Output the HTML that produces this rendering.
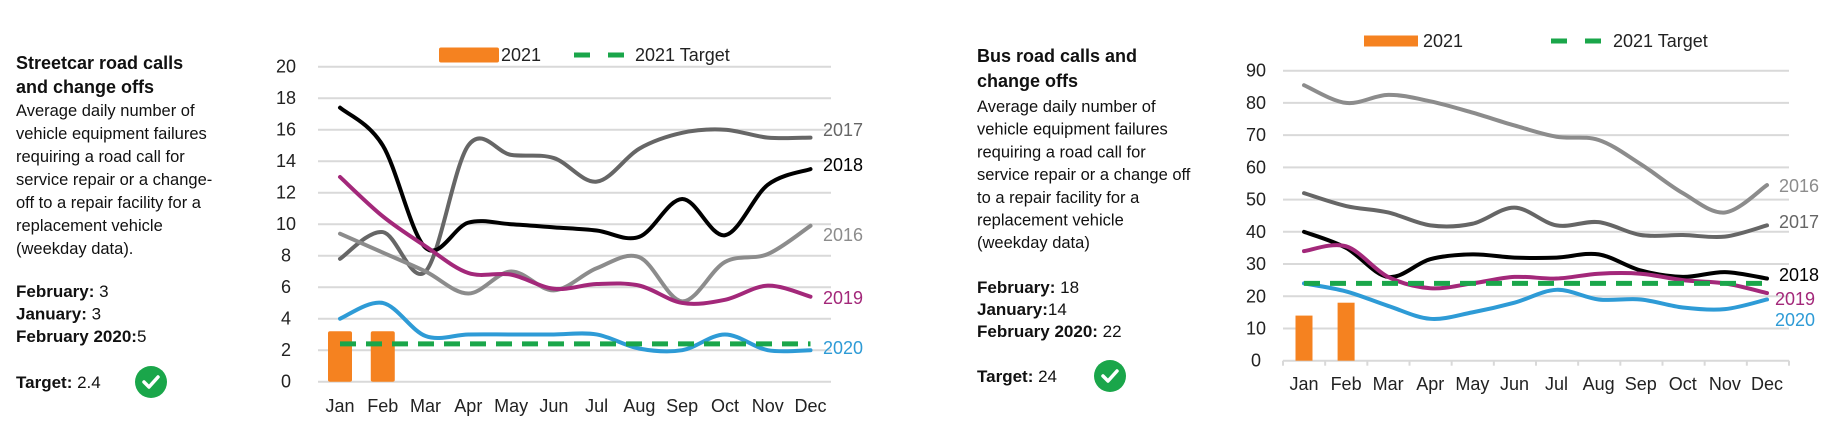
<!DOCTYPE html>
<html><head><meta charset="utf-8"><style>
body{margin:0;background:#fff;width:1830px;height:439px;overflow:hidden;font-family:"Liberation Sans",Arial,sans-serif;}
svg{position:absolute;left:0;top:0}
text{font-family:"Liberation Sans",Arial,sans-serif;}
</style></head><body>
<svg id="chart" width="1830" height="439" viewBox="0 0 1830 439"></svg>
<script>
const months=["Jan","Feb","Mar","Apr","May","Jun","Jul","Aug","Sep","Oct","Nov","Dec"];
// Streetcar
const scTicks=[0,2,4,6,8,10,12,14,16,18,20];
const sc2016=[9.4,8.2,7,5.6,7,5.8,7.2,7.9,5.1,7.6,8.1,9.9];
const sc2017=[7.8,9.5,7,15,14.4,14.2,12.7,14.8,15.8,16,15.5,15.5];
const sc2018=[17.4,15,8.5,10.1,10,9.8,9.6,9.2,11.6,9.3,12.5,13.5];
const sc2019=[13,10.5,8.6,6.9,6.8,5.9,6.2,6.1,5.0,5.2,6.1,5.4];
const sc2020=[4,5,2.9,3,3,3,3,2.1,2,3,2,2];
const sc2021=[3.2,3.2];
const scTarget=2.4;
// Bus
const busTicks=[0,10,20,30,40,50,60,70,80,90];
const bus2016=[85.5,80,82.5,80.5,77,73,69.5,68.5,61,52,46,54.5];
const bus2017=[52,48,46,42,42.5,47.5,42,43,39,39,38.5,42];
const bus2018=[40,35,26,31.5,33,32,32,33,28,26,27.5,25.5];
const bus2019=[34,35.5,26,22.5,24,26,25.5,27,27,25,24,21];
const bus2020=[24,21.5,17,13,15,18,22,19,19,16.5,16,19];
const bus2021=[14,18];
const busTarget=24;

const NS="http://www.w3.org/2000/svg";
const svg=document.getElementById('chart');
function el(tag,attrs,parent,txt){const e=document.createElementNS(NS,tag);for(const k in attrs)e.setAttribute(k,attrs[k]);if(txt!==undefined)e.textContent=txt;(parent||svg).appendChild(e);return e;}
function smooth(pts){let d=`M${pts[0][0]},${pts[0][1]}`;for(let i=0;i<pts.length-1;i++){const p0=pts[i-1]||pts[i],p1=pts[i],p2=pts[i+1],p3=pts[i+2]||p2;const t=6;d+=` C${p1[0]+(p2[0]-p0[0])/t},${p1[1]+(p2[1]-p0[1])/t} ${p2[0]-(p3[0]-p1[0])/t},${p2[1]-(p3[1]-p1[1])/t} ${p2[0]},${p2[1]}`;}return d;}

function panel(c){
  const g=el('g',{});
  
  
  const y=v=>c.y0-(v/c.ymax)*(c.y0-c.y1);
  const x=i=>c.xJan+i*(c.xDec-c.xJan)/11;
  const tb=el('g',{},g);
  
  
  c.title.forEach((t,i)=>el('text',{x:c.tx,y:c.titleY[i],'font-size':18,'font-weight':'bold',fill:'#111'},tb,t));
  c.body.forEach((t,i)=>el('text',{x:c.tx,y:c.bodyY+i*c.lh,'font-size':16.5,fill:'#111'},tb,t));
  c.stats.forEach((s,i)=>{const t=el('text',{x:c.tx,y:c.statY+i*c.slh,'font-size':17,fill:'#111'},tb);el('tspan',{'font-weight':'bold'},t,s[0]);el('tspan',{},t,s[1]);});
  const tt=el('text',{x:c.tx,y:c.targetY,'font-size':17,fill:'#111'},tb);el('tspan',{'font-weight':'bold'},tt,'Target:');el('tspan',{},tt,' '+c.targetText);
  const ck=el('g',{},tb);
  
  
  el('circle',{cx:c.ckx,cy:c.targetY-6,r:16,fill:'#1aa64a'},ck);
  el('path',{d:`M${c.ckx-7},${c.targetY-6} l5,5 l9,-10`,stroke:'#fff','stroke-width':3.5,fill:'none','stroke-linecap':'round','stroke-linejoin':'round'},ck);
  c.ticks.forEach(v=>{
    const gl=el('line',{x1:c.gx0,x2:c.gx1,y1:y(v),y2:y(v),stroke:'#d9d9d9','stroke-width':2},g);
    
    
    const tl=el('text',{x:c.ylx,y:y(v)+6,'font-size':18,'text-anchor':'middle',fill:'#222'},g,String(v));
    
    
  });
  if(c.axisTicks){for(let i=0;i<=12;i++){const xx=c.gx0+i*(c.gx1-c.gx0)/12;el('line',{x1:xx,x2:xx,y1:c.y0,y2:c.y0+5,stroke:'#d9d9d9','stroke-width':2},g);}}
  months.forEach((m,i)=>{const t=el('text',{x:x(i),y:c.mY,'font-size':18,'text-anchor':'middle',fill:'#222'},g,m);
    
    });
  c.bars.forEach((v,i)=>{const r=el('rect',{x:x(i)-c.bw/2,y:y(v),width:c.bw,height:c.y0-y(v),fill:'#f58220',rx:c.rx},g);
    
    });
  c.series.forEach(s=>{
    const p=el('path',{d:smooth(s.data.map((v,i)=>[x(i),y(v)])),stroke:s.color,'stroke-width':4,fill:'none','stroke-linecap':'round'},g);
    
    
    const l=el('text',{x:s.lx,y:s.ly+6,'font-size':18,style:'fill:'+s.color},g,s.label);
    
    
  });
  const tg=el('line',{x1:x(0),x2:x(11),y1:y(c.target),y2:y(c.target),stroke:'#1aa64a','stroke-width':5,'stroke-dasharray':'16,10'},g);
  
  
  const lg=el('g',{},g);
  
  
  el('rect',{x:c.lg[0],y:c.lg[1]-c.lgh/2,width:c.lg[2],height:c.lgh,fill:'#f58220',rx:c.rx},lg);
  el('text',{x:c.lg[3],y:c.lg[1]+6,'font-size':18,fill:'#222'},lg,'2021');
  el('line',{x1:c.lg[4],x2:c.lg[5],y1:c.lg[1],y2:c.lg[1],stroke:'#1aa64a','stroke-width':5,'stroke-dasharray':'16,18'},lg);
  el('text',{x:c.lg[6],y:c.lg[1]+6,'font-size':18,fill:'#222'},lg,'2021 Target');
}

panel({name:'streetcar-panel',tx:16,titleY:[69,93],title:['Streetcar road calls','and change offs'],
  body:['Average daily number of','vehicle equipment failures','requiring a road call for','service repair or a change-','off to a repair facility for a','replacement vehicle','(weekday data).'],bodyY:116,lh:23,
  stats:[['February:',' 3'],['January:',' 3'],['February 2020:','5']],statY:297,slh:22.5,targetY:388,targetText:'2.4',ckx:151,
  ticks:scTicks,ymax:20,y0:381.7,y1:66.7,gx0:318,gx1:831,xJan:340,xDec:810.5,ylx:286,mY:412,bw:24,rx:2,axisTicks:false,
  bars:sc2021,target:scTarget,lg:[439,55,60,501,574,626,635],lgh:15,
  series:[{label:'2017',data:sc2017,color:'#666666',lx:823,ly:130},{label:'2018',data:sc2018,color:'#000',lx:823,ly:165},
    {label:'2016',data:sc2016,color:'#8c8c8c',lx:823,ly:235},{label:'2019',data:sc2019,color:'#a3287a',lx:823,ly:298},
    {label:'2020',data:sc2020,color:'#2e9bd6',lx:823,ly:348}]});

panel({name:'bus-panel',tx:977,titleY:[62,87],title:['Bus road calls and','change offs'],
  body:['Average daily number of','vehicle equipment failures','requiring a road call for','service repair or a change off','to a repair facility for a','replacement vehicle','(weekday data)'],bodyY:112,lh:22.7,
  stats:[['February:',' 18'],['January:','14'],['February 2020:',' 22']],statY:293,slh:22,targetY:382,targetText:'24',ckx:1110,
  ticks:busTicks,ymax:90,y0:360.7,y1:70.7,gx0:1283,gx1:1789,xJan:1304,xDec:1767,ylx:1256,mY:390,bw:17,rx:0,axisTicks:true,
  bars:bus2021,target:busTarget,lg:[1364,41,54,1423,1551,1604,1613],lgh:11,
  series:[{label:'2016',data:bus2016,color:'#8c8c8c',lx:1779,ly:186},{label:'2017',data:bus2017,color:'#666666',lx:1779,ly:222},
    {label:'2018',data:bus2018,color:'#000',lx:1779,ly:275},{label:'2019',data:bus2019,color:'#a3287a',lx:1775,ly:299},
    {label:'2020',data:bus2020,color:'#2e9bd6',lx:1775,ly:320}]});
</script>
</body></html>
